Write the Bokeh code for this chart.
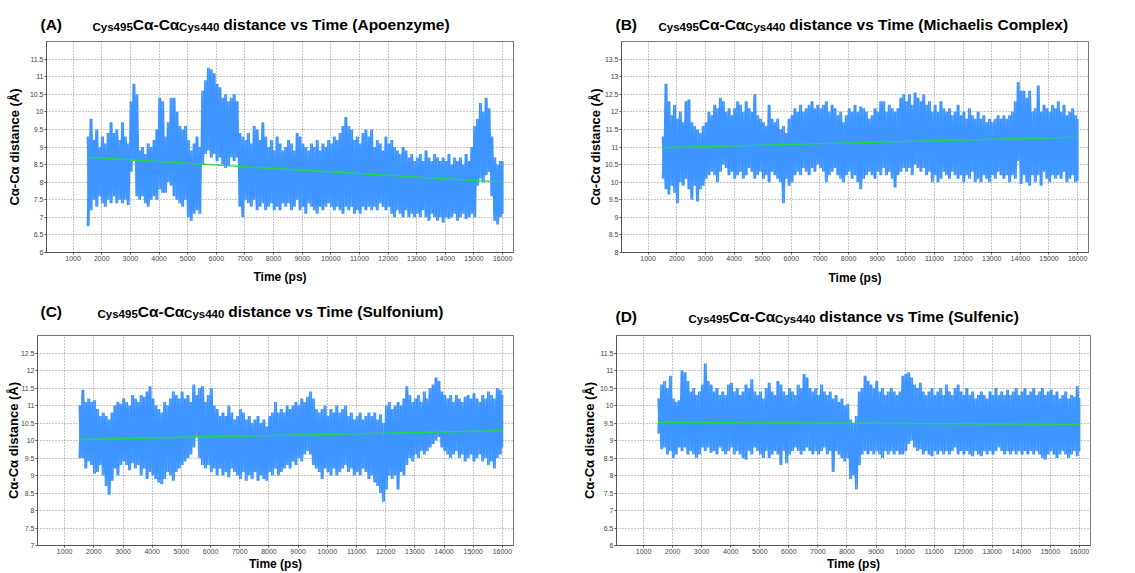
import numpy as np
from bokeh.plotting import figure
from bokeh.models import Range1d, FixedTicker, NumeralTickFormatter
from bokeh.core.properties import value
from bokeh.layouts import column, row
from bokeh.embed import file_html
from bokeh.resources import INLINE

# ---------------- data ----------------
T_START = 1500      # ps, first sample
T_STEP = 100        # ps between samples
T_END = 16000

X_TICKS = [1000, 2000, 3000, 4000, 5000, 6000, 7000, 8000, 9000, 10000,
           11000, 12000, 13000, 14000, 15000, 16000]

A_YTICKS = [6, 6.5, 7, 7.5, 8, 8.5, 9, 9.5, 10, 10.5, 11, 11.5]
B_YTICKS = [8, 8.5, 9, 9.5, 10, 10.5, 11, 11.5, 12, 12.5, 13, 13.5]
C_YTICKS = [7, 7.5, 8, 8.5, 9, 9.5, 10, 10.5, 11, 11.5, 12, 12.5]
D_YTICKS = [6, 6.5, 7, 7.5, 8, 8.5, 9, 9.5, 10, 10.5, 11, 11.5]

# (A) Apoenzyme: upper / lower excursion per 100 ps
A_hi = [9.3, 9.8, 9.2, 9.5, 9.0, 9.3, 9.1, 9.4, 9.7, 9.4,
        9.5, 9.2, 9.7, 9.3, 9.1, 10.3, 10.8, 10.5, 8.9, 9.0,
        8.8, 9.1, 9.0, 9.2, 9.5, 10.4, 10.3, 9.3, 9.7, 10.4,
        10.4, 10.0, 9.6, 9.5, 9.6, 9.2, 8.9, 9.1, 9.3, 9.0,
        10.6, 10.9, 11.25, 11.2, 11.1, 10.8, 10.7, 10.4, 10.5, 10.3,
        10.4, 10.5, 10.3, 9.4, 9.3, 9.2, 9.4, 9.1, 9.6, 9.5,
        9.2, 9.7, 9.3, 9.0, 9.2, 8.9, 9.3, 9.1, 8.9, 9.0,
        9.2, 9.1, 8.9, 9.4, 9.3, 9.1, 9.0, 8.9, 9.1, 9.0,
        9.2, 8.9, 9.1, 9.0, 9.2, 9.1, 9.3, 9.2, 9.4, 9.6,
        9.85, 9.6, 9.5, 9.2, 9.3, 9.1, 9.4, 9.5, 9.3, 9.5,
        9.0, 9.2, 9.1, 8.9, 9.3, 9.1, 9.2, 9.0, 8.9, 8.8,
        9.0, 8.9, 8.7, 8.8, 8.6, 8.7, 8.8, 8.6, 8.9, 8.7,
        8.6, 8.8, 8.7, 8.6, 8.7, 8.6, 8.8, 8.5, 8.7, 8.6,
        8.7, 8.5, 8.8, 8.6, 9.0, 9.6, 9.8, 10.25, 10.0, 10.4,
        10.1, 9.3, 8.7, 8.5, 8.6, 8.6]
A_lo = [6.75, 7.2, 7.5, 7.3, 7.6, 7.4, 7.3, 7.5, 7.4, 7.6,
        7.4, 7.5, 7.4, 7.5, 7.35, 8.3, 8.6, 7.6, 7.5, 7.6,
        7.4, 7.3, 7.5, 7.6, 7.5, 7.8, 7.7, 7.7, 8.0, 7.9,
        7.6, 7.5, 7.4, 7.3, 7.5, 7.0, 6.9, 7.1, 7.2, 7.1,
        8.5, 8.8, 8.9, 8.7, 8.8, 8.6, 8.7, 8.5, 8.4, 8.45,
        8.7, 8.6, 8.7, 7.3, 7.0, 7.5, 7.4, 7.3, 7.5, 7.2,
        7.3, 7.4, 7.2, 7.3, 7.4, 7.2, 7.3, 7.2, 7.4, 7.3,
        7.4, 7.2, 7.3, 7.5, 7.2, 7.3, 7.1, 7.4, 7.3, 7.2,
        7.1, 7.3, 7.2, 7.3, 7.4, 7.3, 7.2, 7.3, 7.2, 7.1,
        7.3, 7.2, 7.3, 7.1, 7.2, 7.1, 7.3, 7.2, 7.3, 7.2,
        7.3, 7.2, 7.4, 7.3, 7.2, 7.3, 7.1, 7.0, 7.2, 7.1,
        7.0, 7.2, 7.0, 7.1, 7.0, 7.1, 7.0, 7.2, 7.0, 6.9,
        7.1, 7.0, 6.9, 7.0, 6.85, 7.0, 6.95, 7.0, 7.1, 6.9,
        7.0, 7.1, 6.95, 7.0, 7.1, 7.0, 7.9, 8.1, 8.0, 8.2,
        8.3, 7.6, 6.9, 6.8, 7.0, 7.1]
A_trend = [8.71, 8.0]

# (B) Michaelis Complex
B_hi = [11.3, 12.8, 12.3, 11.9, 12.2, 11.8, 12.0, 11.7, 12.3, 12.35,
        11.7, 11.6, 11.5, 11.4, 11.6, 11.7, 12.0, 11.9, 12.2, 12.1,
        12.4, 12.3, 12.0, 12.1, 11.9, 12.1, 12.3, 12.2, 12.0, 12.3,
        12.1, 12.0, 12.5, 11.9, 11.8, 11.7, 11.6, 12.2, 11.8, 11.7,
        11.8, 11.5, 11.6, 11.4, 11.8, 11.9, 12.1, 12.0, 12.2, 12.0,
        12.1, 12.2, 12.3, 12.1, 12.2, 12.1, 12.2, 12.3, 12.0, 12.2,
        12.1, 11.9, 12.0, 11.7, 11.9, 12.1, 12.0, 12.2, 12.0, 12.15,
        12.1, 12.0, 11.8, 11.9, 12.1, 12.0, 12.3, 12.3, 12.0, 12.2,
        12.1, 12.0, 12.1, 12.4, 12.5, 12.3, 12.5, 12.2, 12.55, 12.4,
        12.3, 12.5, 12.2, 12.3, 12.0, 12.2, 12.0, 12.3, 12.1, 12.0,
        12.1, 11.9, 12.0, 12.2, 11.9, 12.0, 11.8, 12.1, 11.9, 11.8,
        12.0, 11.8, 11.9, 11.7, 11.8, 11.7, 11.8, 11.9, 11.8, 11.9,
        11.8, 11.9, 12.0, 12.3, 12.85, 12.6, 12.6, 12.4, 12.6, 12.0,
        12.1, 12.75, 12.0, 12.2, 12.1, 12.0, 12.2, 12.1, 12.3, 12.0,
        12.2, 11.9, 12.0, 12.1, 11.9, 11.8]
B_lo = [10.1, 9.8, 9.65, 9.9, 9.7, 9.4, 10.0, 9.9, 10.1, 9.8,
        9.5, 9.9, 9.45, 9.8, 9.9, 10.1, 10.2, 10.3, 10.2, 10.0,
        10.3, 10.5, 10.4, 10.2, 10.3, 10.1, 10.2, 10.3, 10.1, 10.2,
        10.4, 10.3, 10.1, 10.2, 10.3, 10.1, 10.2, 10.0, 10.3, 10.2,
        10.1, 10.0, 9.4, 10.1, 9.9, 10.0, 10.2, 10.3, 10.2, 10.4,
        10.3, 10.2, 10.4, 10.3, 10.5, 10.4, 10.3, 10.0, 10.2, 10.3,
        10.4, 10.2, 10.1, 10.0, 10.2, 10.3, 10.1, 10.2, 10.0, 9.8,
        10.1, 10.2, 10.3, 10.2, 10.1, 10.3, 10.2, 10.4, 10.2, 10.3,
        10.1, 9.85, 10.2, 10.3, 10.4, 10.3, 10.4, 10.2, 10.5, 10.4,
        10.3, 10.4, 10.2, 10.3, 10.0, 10.2, 10.0, 10.1, 10.3, 10.2,
        10.1, 10.3, 10.2, 10.1, 10.2, 10.0, 10.2, 10.1, 10.3, 10.0,
        10.1, 10.0, 10.2, 10.1, 10.0, 10.2, 10.1, 10.3, 10.2, 10.1,
        10.2, 10.0, 10.2, 10.1, 10.6, 9.95, 10.2, 10.0, 9.9, 10.2,
        10.0, 10.2, 9.9, 10.3, 10.1, 10.0, 10.2, 10.1, 10.2, 10.1,
        10.3, 10.0, 10.1, 10.2, 10.0, 10.05]
B_trend = [10.98, 11.28]

# (C) Sulfonium
C_hi = [11.0, 11.45, 11.1, 11.2, 11.1, 11.15, 10.9, 10.7, 10.8, 10.7,
        10.6, 10.8, 11.0, 11.1, 11.05, 11.2, 11.1, 11.0, 11.3, 11.2,
        11.1, 11.3, 11.25, 11.4, 11.55, 11.2, 11.0, 10.9, 10.8, 11.1,
        11.0, 11.2, 11.4, 11.3, 11.2, 11.4, 11.2, 11.3, 11.1, 11.6,
        11.3, 11.5, 11.55, 11.1, 11.3, 11.5, 11.0, 10.9, 10.7, 10.8,
        10.7, 11.0, 10.8, 10.6, 10.7, 10.9, 10.8, 10.6, 10.7, 10.5,
        10.6, 10.7, 10.5, 10.6, 10.4, 10.7, 10.8, 11.1, 10.8, 10.9,
        10.8, 11.0, 10.9, 11.0, 11.1, 11.0, 11.2, 11.1, 11.25, 11.4,
        11.2, 10.9, 10.8, 10.9, 11.0, 10.7, 10.9, 10.8, 11.0, 10.8,
        10.9, 11.0, 10.7, 10.8, 10.6, 10.7, 10.8, 10.6, 10.7, 10.8,
        10.7, 10.8, 10.6, 10.75, 10.5, 11.0, 11.1, 10.9, 11.0, 11.1,
        11.0, 11.2, 11.55, 11.3, 11.1, 11.2, 11.3, 11.1, 11.4, 11.2,
        11.5, 11.6, 11.8, 11.7, 11.4, 11.3, 11.2, 11.3, 11.1, 11.3,
        11.2, 11.1, 11.25, 11.3, 11.2, 11.35, 11.2, 11.1, 11.3, 11.2,
        11.4, 11.3, 11.2, 11.5, 11.45, 11.3]
C_lo = [9.5, 9.5, 9.2, 9.4, 9.3, 9.05, 9.1, 9.3, 9.0, 8.7,
        8.45, 8.85, 9.2, 9.0, 9.3, 9.4, 9.3, 9.15, 9.35, 9.2,
        9.3, 9.0, 9.2, 8.9, 9.1, 9.0, 8.9, 8.8, 8.75, 8.9,
        9.1, 9.0, 8.85, 9.1, 9.2, 9.3, 9.4, 9.5, 9.6, 9.8,
        10.1, 9.5, 9.3, 9.2, 9.3, 9.1, 9.2, 9.0, 9.2, 9.0,
        9.1, 8.95, 9.2, 9.1, 9.0, 8.9, 9.1, 8.85, 9.0, 8.9,
        9.1, 8.85, 9.0, 8.9, 8.85, 9.1, 9.0, 9.2, 9.0, 9.1,
        9.2, 9.3, 9.2, 9.4, 9.3, 9.5, 9.4, 9.6, 9.7, 9.6,
        9.3, 9.2, 9.1, 8.9, 9.2, 9.1, 9.0, 9.2, 9.0, 9.1,
        9.2, 9.3, 9.1, 9.2, 9.0, 9.1, 9.0, 9.2, 9.1, 8.9,
        9.0, 8.8, 8.7, 8.5, 8.25, 8.6, 9.0, 8.9, 9.0, 8.6,
        9.1, 9.0, 9.3, 9.5, 9.4, 9.6, 9.5, 9.7, 9.6, 9.7,
        9.8, 9.9, 10.0, 10.1, 9.8, 9.7, 9.6, 9.5, 9.6, 9.7,
        9.5, 9.6, 9.4, 9.5, 9.6, 9.4, 9.5, 9.6, 9.4, 9.5,
        9.3, 9.4, 9.2, 9.5, 9.6, 9.8]
C_trend = [10.03, 10.28]

# (D) Sulfenic
D_hi = [10.2, 10.6, 10.7, 10.5, 10.85, 10.2, 10.1, 10.15, 11.0, 10.95,
        10.7, 10.4, 10.5, 10.3, 10.4, 10.6, 11.2, 10.7, 10.6, 10.4,
        10.5, 10.3, 10.4, 10.3, 10.6, 10.65, 10.4, 10.5, 10.3, 10.4,
        10.6, 10.5, 10.75, 10.4, 10.3, 10.4, 10.2, 10.5, 10.65, 10.4,
        10.3, 10.7, 10.6, 10.4, 10.3, 10.5, 10.4, 10.3, 10.6, 10.5,
        10.9, 10.8, 10.5, 10.4, 10.5, 10.3, 10.6, 10.4, 10.3, 10.4,
        10.2, 10.3, 10.1, 10.2, 10.0, 10.05, 9.6, 9.5, 9.7, 10.4,
        10.5, 10.85, 10.7, 10.6, 10.5, 10.7, 10.4, 10.5, 10.3, 10.4,
        10.5, 10.4, 10.3, 10.4, 10.85, 10.9, 10.95, 10.8, 10.6, 10.5,
        10.65, 10.4, 10.3, 10.4, 10.5, 10.3, 10.4, 10.5, 10.3, 10.6,
        10.4, 10.3, 10.5, 10.6, 10.4, 10.3, 10.5, 10.3, 10.4, 10.2,
        10.3, 10.4, 10.3, 10.2, 10.4, 10.3, 10.5, 10.3, 10.4, 10.3,
        10.45, 10.3, 10.4, 10.5, 10.3, 10.4, 10.5, 10.3, 10.4, 10.5,
        10.3, 10.4, 10.5, 10.3, 10.4, 10.45, 10.3, 10.4, 10.2, 10.3,
        10.4, 10.2, 10.3, 10.25, 10.55, 10.2]
D_lo = [9.2, 8.75, 8.8, 8.6, 8.7, 8.5, 8.6, 8.8, 8.7, 8.8,
        8.6, 8.7, 8.6, 8.5, 8.6, 8.8, 8.7, 8.8, 8.65, 8.7,
        8.6, 8.8, 8.7, 8.6, 8.7, 8.8, 8.6, 8.7, 8.6, 8.5,
        8.45, 8.7, 8.6, 8.8, 8.7, 8.6, 8.5, 8.7, 8.5, 8.6,
        8.7, 8.6, 8.3, 8.7, 8.35, 8.6, 8.7, 8.8, 8.7, 8.6,
        8.7, 8.8, 8.7, 8.6, 8.7, 8.6, 8.7, 8.8, 8.6, 8.7,
        8.1, 8.7, 8.6, 8.5, 8.4, 8.5, 7.9, 8.0, 7.6, 8.3,
        8.6, 8.7, 8.6, 8.7, 8.6, 8.7, 8.6, 8.5, 8.7, 8.6,
        8.7, 8.6, 8.7, 8.6, 8.6, 8.7, 8.9, 9.0, 8.8, 8.7,
        8.75, 8.6, 8.7, 8.6, 8.55, 8.7, 8.6, 8.7, 8.6, 8.7,
        8.6, 8.7, 8.8, 8.6, 8.7, 8.6, 8.7, 8.6, 8.55, 8.7,
        8.6, 8.55, 8.7, 8.6, 8.7, 8.6, 8.7, 8.8, 8.7, 8.6,
        8.7, 8.6, 8.7, 8.6, 8.7, 8.6, 8.7, 8.6, 8.7, 8.6,
        8.7, 8.6, 8.5, 8.45, 8.6, 8.7, 8.6, 8.5, 8.6, 8.7,
        8.6, 8.5, 8.6, 8.7, 8.55, 8.7]
D_trend = [9.52, 9.46]

# ---------------- styling helpers ----------------
FONT = "Liberation Sans"
TRACE_COLOR = "#3f95ff"
TREND_COLOR = "#1fdc3e"
PAGE_W = 1135
MAIN_SIZE = 15.5
SUB_SIZE = 11.5

# Arial/Liberation Sans Bold advance widths (per 1000 em)
ADV = {' ': 278, '(': 333, ')': 333, '-': 333, 'A': 722, 'B': 722, 'C': 722,
       'D': 722, 'M': 833, 'S': 667, 'T': 611, 'a': 556, 'c': 556, 'd': 611,
       'e': 556, 'f': 333, 'h': 611, 'i': 278, 'l': 278, 'm': 889, 'n': 611,
       'o': 611, 'p': 611, 's': 556, 't': 333, 'u': 611, 'v': 556, 'x': 556,
       'y': 556, 'z': 500, 'α': 605}


def text_width(s, size):
    return sum(ADV.get(ch, 556) for ch in s) * size / 1000.0


def title_strip(height, titles):
    """Full-width figure carrying the mixed-size panel titles of one row.
    titles: list of (letter, state, letter_x, sub_x, baseline_y) in page pixels."""
    t = figure(width=PAGE_W, height=height, output_backend="svg", toolbar_location=None,
               x_range=Range1d(0, PAGE_W), y_range=Range1d(0, height),
               x_axis_location=None, y_axis_location=None, min_border=0)
    t.outline_line_color = None
    t.grid.visible = False
    t.background_fill_color = "white"
    t.border_fill_color = "white"
    for letter, state, letter_x, sub_x, base in titles:
        pieces = [(letter_x, base, f"({letter})", MAIN_SIZE)]
        x = sub_x
        pieces.append((x, base - 2.5, "Cys495", SUB_SIZE))
        x += text_width("Cys495", SUB_SIZE)
        pieces.append((x, base, "Cα-Cα", MAIN_SIZE))
        x += text_width("Cα-Cα", MAIN_SIZE)
        pieces.append((x, base - 2.5, "Cys440", SUB_SIZE))
        x += text_width("Cys440", SUB_SIZE) + 4.0
        pieces.append((x, base, f"distance vs Time ({state})", MAIN_SIZE))
        for px, py, txt, size in pieces:
            t.text(x=[px], y=[py], text=[txt], text_font=value(FONT),
                   text_font_style="bold", text_font_size=value(f"{size}px"),
                   text_color="black", text_baseline="alphabetic", text_align="left")
    return t


def make_panel(hi, lo, trend, yticks, yrange, w, h, borders,
               ylab_standoff, xlab_standoff):
    bl, br, bt, bb = borders
    p = figure(width=w, height=h, output_backend="svg", toolbar_location=None,
               x_range=Range1d(70, 16380), y_range=Range1d(*yrange),
               min_border_left=bl, min_border_right=br, min_border_top=bt,
               min_border_bottom=bb)
    p.background_fill_color = "white"
    p.border_fill_color = "white"
    p.outline_line_color = "#777777"
    p.outline_line_width = 1

    n = min(len(hi), len(lo))
    t = T_START + T_STEP * np.arange(n)
    half = np.minimum(t + T_STEP / 2, T_END)
    hi_a = np.asarray(hi[:n], dtype=float)
    lo_a = np.asarray(lo[:n], dtype=float)
    # two interleaved zig-zags (opposite phase) give a dense core with thin spikes
    xs = np.empty(2 * n)
    xs[0::2] = t
    xs[1::2] = half
    ys1 = np.empty(2 * n)
    ys1[0::2] = hi_a
    ys1[1::2] = lo_a
    ys2 = np.empty(2 * n)
    ys2[0::2] = lo_a
    ys2[1::2] = hi_a
    p.line(xs, ys1, line_color=TRACE_COLOR, line_width=1.5)
    p.line(xs, ys2, line_color=TRACE_COLOR, line_width=1.5)
    p.line([T_START, T_END], trend, line_color=TREND_COLOR, line_width=1.4)

    p.xaxis.ticker = FixedTicker(ticks=X_TICKS)
    p.yaxis.ticker = FixedTicker(ticks=yticks)
    p.xgrid.ticker = FixedTicker(ticks=X_TICKS)
    p.ygrid.ticker = FixedTicker(ticks=yticks)
    p.xaxis.formatter = NumeralTickFormatter(format="0")
    p.yaxis.formatter = NumeralTickFormatter(format="0[.]0")
    p.grid.grid_line_color = "#8f8f8f"
    p.grid.grid_line_dash = "1 2"
    p.grid.grid_line_width = 1

    for ax in (p.xaxis, p.yaxis):
        ax.axis_line_color = "#555555"
        ax.major_tick_line_color = "#555555"
        ax.major_tick_out = 2
        ax.major_tick_in = 0
        ax.minor_tick_out = 0
        ax.minor_tick_in = 0
        ax.major_label_text_font = FONT
        ax.major_label_text_font_size = "7px"
        ax.major_label_text_color = "#444444"
        ax.major_label_standoff = 1
        ax.axis_label_text_font = FONT
        ax.axis_label_text_font_style = "bold"
        ax.axis_label_text_color = "black"

    p.xaxis.axis_label = "Time (ps)"
    p.xaxis.axis_label_text_font_size = "12px"
    p.xaxis.axis_label_standoff = xlab_standoff
    p.yaxis.axis_label = "Cα-Cα distance (Å)"
    p.yaxis.axis_label_text_font_size = "13px"
    p.yaxis.axis_label_standoff = ylab_standoff
    return p


# row 1: strip 0..39 px, plots 39..290 ; row 2: strip 290..327, plots 327..573
strip1 = title_strip(39, [("A", "Apoenzyme", 40, 92, 15.0),
                          ("B", "Michaelis Complex", 615, 658, 15.0)])
strip2 = title_strip(37, [("C", "Sulfonium", 40, 97, 16.5),
                          ("D", "Sulfenic", 615, 688, 10.8)])

pA = make_panel(A_hi, A_lo, A_trend, A_YTICKS, (6, 12), 570, 251, (46, 57, 2, 37), 5, 6)
pB = make_panel(B_hi, B_lo, B_trend, B_YTICKS, (8, 14), 565, 251, (51, 47, 2, 38), -1, 7)
pC = make_panel(C_hi, C_lo, C_trend, C_YTICKS, (7, 13), 570, 246, (37, 57, 2, 26), -3, 0)
pD = make_panel(D_hi, D_lo, D_trend, D_YTICKS, (6, 12), 565, 246, (46, 45, 8, 23), 0, 0)

layout = column(strip1, row(pA, pB), strip2, row(pC, pD))
open("out.html", "w").write(file_html(layout, INLINE))
